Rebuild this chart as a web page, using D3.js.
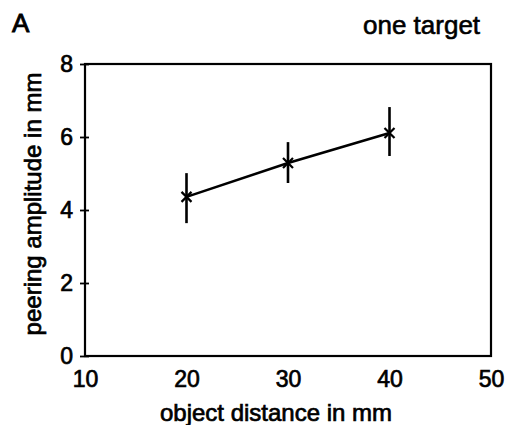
<!DOCTYPE html>
<html>
<head>
<meta charset="utf-8">
<script src="https://cdn.jsdelivr.net/npm/d3@7"></script>
<style>
  html, body { margin: 0; padding: 0; background: #fff; }
  svg { display: block; }
  text { font-family: "Liberation Sans", Arial, sans-serif; fill: #000; }
</style>
</head>
<body>
<svg id="chart" width="505" height="425"></svg>
<script>
// object distance (mm) and peering amplitude (mm)
var distances = [20, 30, 40];
var amplitudes = [4.36, 5.29, 6.11];
var errTop = [5.01, 5.86, 6.82];
var errBottom = [3.64, 4.74, 5.48];
var xTicks = [10, 20, 30, 40, 50];
var yTicks = [0, 2, 4, 6, 8];

(function () {
    var svg = d3.select("#chart");
    var plotLeft = 85, plotRight = 491, plotTop = 64, plotBottom = 356;

    var x = d3.scaleLinear().domain([10, 50]).range([plotLeft, plotRight]);
    var y = d3.scaleLinear().domain([0, 8]).range([plotBottom, plotTop]);

    /* frame */
    svg.append("rect")
        .attr("x", plotLeft).attr("y", plotTop)
        .attr("width", plotRight - plotLeft).attr("height", plotBottom - plotTop)
        .attr("fill", "none").attr("stroke", "#000").attr("stroke-width", 2.2);

    /* y axis: ticks cross the left edge */
    var yAxis = svg.append("g").attr("transform", "translate(" + plotLeft + ",0)")
        .call(d3.axisLeft(y).tickValues(yTicks).tickSize(5).tickPadding(7));
    yAxis.select(".domain").remove();
    yAxis.selectAll(".tick line").attr("stroke", "#000").attr("stroke-width", 1.8)
        .attr("x2", -5).attr("x1", 4);
    yAxis.selectAll(".tick text")
        .style("font-family", "Liberation Sans, Arial, sans-serif")
        .style("font-size", "23px").attr("fill", "#000")
        .attr("stroke", "#000").attr("stroke-width", 0.7);

    /* x axis: labels only */
    var xAxis = svg.append("g").attr("transform", "translate(0," + plotBottom + ")")
        .call(d3.axisBottom(x).tickValues(xTicks).tickSize(0).tickPadding(15));
    xAxis.select(".domain").remove();
    xAxis.selectAll(".tick text")
        .style("font-family", "Liberation Sans, Arial, sans-serif")
        .style("font-size", "23px").attr("fill", "#000")
        .attr("stroke", "#000").attr("stroke-width", 0.7);

    var pts = distances.map(function (d, i) {
        return { x: d, y: amplitudes[i], hi: errTop[i], lo: errBottom[i] };
    });

    /* error bars */
    svg.selectAll(".err").data(pts).enter().append("line")
        .attr("class", "err")
        .attr("x1", function (d) { return x(d.x); })
        .attr("x2", function (d) { return x(d.x); })
        .attr("y1", function (d) { return y(d.hi); })
        .attr("y2", function (d) { return y(d.lo); })
        .attr("stroke", "#000").attr("stroke-width", 2.6);

    /* mean line */
    svg.append("path").datum(pts)
        .attr("d", d3.line().x(function (d) { return x(d.x); }).y(function (d) { return y(d.y); }))
        .attr("fill", "none").attr("stroke", "#000").attr("stroke-width", 2.6);

    /* x markers */
    svg.selectAll(".mark").data(pts).enter().append("path")
        .attr("class", "mark")
        .attr("d", function (d) {
            var cx = x(d.x), cy = y(d.y), r = 5;
            return "M" + (cx - r) + "," + (cy - r) + "L" + (cx + r) + "," + (cy + r) +
                "M" + (cx - r) + "," + (cy + r) + "L" + (cx + r) + "," + (cy - r);
        })
        .attr("stroke", "#000").attr("stroke-width", 2.2).attr("fill", "none");

    /* labels */
    svg.append("text").attr("x", 276).attr("y", 421)
        .attr("text-anchor", "middle").style("font-size", "24px")
        .attr("stroke", "#000").attr("stroke-width", 0.7)
        .text("object distance in mm");

    svg.append("text").attr("transform", "translate(41,204) rotate(-90)")
        .attr("text-anchor", "middle").style("font-size", "24px")
        .attr("stroke", "#000").attr("stroke-width", 0.7)
        .text("peering amplitude in mm");

    svg.append("text").attr("x", 12).attr("y", 32)
        .style("font-size", "26px")
        .attr("stroke", "#000").attr("stroke-width", 0.9)
        .text("A");

    svg.append("text").attr("x", 363).attr("y", 34)
        .style("font-size", "26px")
        .attr("stroke", "#000").attr("stroke-width", 0.6)
        .text("one target");
})();
</script>
</body>
</html>
